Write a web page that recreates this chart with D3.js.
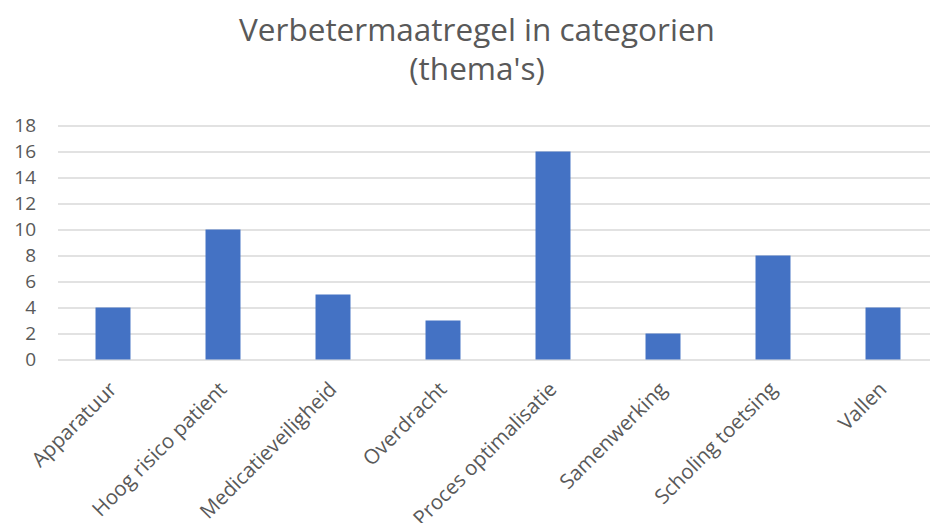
<!DOCTYPE html>
<html>
<head>
<meta charset="utf-8">
<script src="https://cdn.jsdelivr.net/npm/d3@7"></script>
<style>
    body { margin: 0; background: #fff; }
    text { font-family: "Open Sans", sans-serif; fill: #595959; }
</style>
</head>
<body>
<div id="chart"></div>
<script>
// Chart data
const categories = ['Apparatuur', 'Hoog risico patient', 'Medicatieveiligheid', 'Overdracht',
    'Proces optimalisatie', 'Samenwerking', 'Scholing toetsing', 'Vallen'];
const counts = [4, 10, 5, 3, 16, 2, 8, 4];
const yTicks = [0, 2, 4, 6, 8, 10, 12, 14, 16, 18];
const titleLines = ['Verbetermaatregel in categorien', "(thema's)"];

const width = 930;
const height = 523;
const margin = { top: 125.5, right: -8, bottom: 163.5, left: 58 };

const svg = d3.select('#chart')
    .append('svg')
    .attr('width', width)
    .attr('height', height);

const x = d3.scaleBand()
    .domain(categories)
    .range([margin.left, width - margin.right])
    .paddingInner(0.682)
    .paddingOuter(0.341);

const y = d3.scaleLinear()
    .domain([0, 18])
    .range([height - margin.bottom, margin.top]);

// Title
svg.append('text')
    .attr('x', 477)
    .attr('y', 41)
    .attr('text-anchor', 'middle')
    .style('font-size', '31.5px')
    .selectAll('tspan')
    .data(titleLines)
    .enter()
    .append('tspan')
    .attr('x', 477)
    .attr('dy', (d, i) => i === 0 ? 0 : 39)
    .text(d => d);

// Gridlines + y labels
const yAxis = d3.axisLeft(y)
    .tickValues(yTicks)
    .tickSize(-(width - margin.left))
    .tickPadding(22);

svg.append('g')
    .attr('transform', `translate(${margin.left},0)`)
    .call(yAxis)
    .call(g => g.select('.domain').remove())
    .call(g => g.selectAll('.tick line').attr('stroke', '#d9d9d9').attr('stroke-width', 1.3))
    .call(g => g.selectAll('.tick text')
        .attr('fill', '#595959')
        .style('font-family', '"Open Sans", sans-serif')
        .style('font-size', '19px'));

// Bars
svg.selectAll('rect.bar')
    .data(categories)
    .enter()
    .append('rect')
    .attr('class', 'bar')
    .attr('x', d => x(d))
    .attr('y', (d, i) => y(counts[i]))
    .attr('width', x.bandwidth())
    .attr('height', (d, i) => y(0) - y(counts[i]))
    .attr('fill', '#4472c4');

// Category labels, rotated
svg.selectAll('text.cat')
    .data(categories)
    .enter()
    .append('text')
    .attr('class', 'cat')
    .attr('text-anchor', 'end')
    .attr('transform', d => `translate(${x(d) + x.bandwidth() / 2 + 5},${y(0) + 31}) rotate(-45)`)
    .style('font-size', '20.5px')
    .text(d => d);
</script>
</body>
</html>
